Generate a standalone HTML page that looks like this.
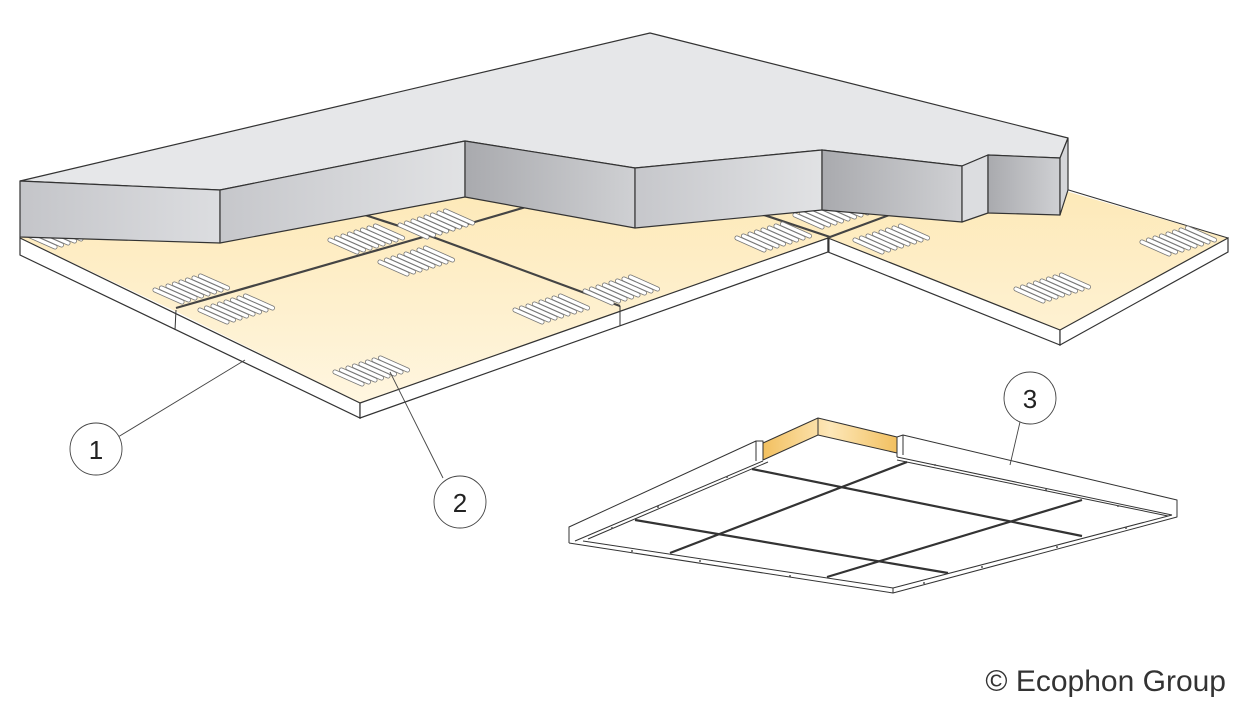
<!DOCTYPE html>
<html><head><meta charset="utf-8"><style>
html,body{margin:0;padding:0;background:#fff;}
svg{display:block}
</style></head><body>
<svg width="1256" height="726" viewBox="0 0 1256 726" xmlns="http://www.w3.org/2000/svg">
<defs>
<linearGradient id="ylw" x1="0" y1="0" x2="0" y2="1">
<stop offset="0" stop-color="#fde9b8"/><stop offset="1" stop-color="#fff6e0"/>
</linearGradient>
<linearGradient id="grayA" x1="0" y1="0" x2="1" y2="0">
<stop offset="0" stop-color="#c4c5c9"/><stop offset="1" stop-color="#dcdde0"/>
</linearGradient>
<linearGradient id="grayB" x1="0" y1="0" x2="1" y2="0">
<stop offset="0" stop-color="#c6c7cb"/><stop offset="1" stop-color="#e1e2e4"/>
</linearGradient>
<linearGradient id="grayD" x1="0" y1="0" x2="1" y2="0">
<stop offset="0" stop-color="#a9aaae"/><stop offset="1" stop-color="#cfd0d3"/>
</linearGradient>
<linearGradient id="ywall" x1="0" y1="0" x2="1" y2="0">
<stop offset="0" stop-color="#f2c060"/><stop offset="0.5" stop-color="#fde7b8"/><stop offset="1" stop-color="#f2c060"/>
</linearGradient>
<g id="rod">
<line x1="0" y1="0" x2="27" y2="12" stroke="#777" stroke-width="5" stroke-linecap="round"/>
<line x1="0" y1="0" x2="27" y2="12" stroke="#fff" stroke-width="3.4" stroke-linecap="round"/>
</g>
<g id="pad">
<use href="#rod" x="0" y="0"/><use href="#rod" x="6.5" y="-2"/><use href="#rod" x="13" y="-4"/><use href="#rod" x="19.5" y="-6"/>
<use href="#rod" x="26" y="-8"/><use href="#rod" x="32.5" y="-10"/><use href="#rod" x="39" y="-12"/><use href="#rod" x="45.5" y="-14"/>
</g>
</defs>

<polygon points="20,238 177,312 360,403 828,238 1060,330 1228,238 1062,190 1000,200 465,190 20,230" fill="url(#ylw)"/>
<polygon points="20,238 360,403 360,418 20,255" fill="#fff" stroke="#333" stroke-width="1.2"/>
<polygon points="360,403 828,238 828,252 360,418" fill="#fff" stroke="#333" stroke-width="1.2"/>
<polygon points="828,238 1060,330 1060,345 828,252" fill="#fff" stroke="#333" stroke-width="1.2"/>
<polygon points="1060,330 1228,238 1228,252 1060,345" fill="#fff" stroke="#333" stroke-width="1.2"/>
<line x1="1228" y1="238" x2="1062" y2="188" stroke="#333" stroke-width="1"/>
<g stroke="#444" stroke-width="2.2" fill="none">
<polyline points="176,308 430,235 526,207"/>
<polyline points="365,215 430,236 620,306"/>
<polyline points="755,212 830,237 892,214"/>
</g>
<line x1="176" y1="310" x2="175" y2="330" stroke="#333" stroke-width="1"/>
<line x1="620" y1="306" x2="620" y2="326" stroke="#333" stroke-width="1"/>
<line x1="829" y1="238" x2="829" y2="252" stroke="#333" stroke-width="1"/>

<use href="#pad" x="28" y="235"/>
<use href="#pad" x="155" y="290"/>
<use href="#pad" x="200" y="310"/>
<use href="#pad" x="330" y="240"/>
<use href="#pad" x="400" y="225"/>
<use href="#pad" x="380" y="262"/>
<use href="#pad" x="335" y="372"/>
<use href="#pad" x="515" y="310"/>
<use href="#pad" x="585" y="291"/>
<use href="#pad" x="737" y="238"/>
<use href="#pad" x="795" y="215"/>
<use href="#pad" x="855" y="240"/>
<use href="#pad" x="1142" y="242"/>
<use href="#pad" x="1016" y="289"/>

<g stroke="#333" stroke-width="1.2" stroke-linejoin="round">
<polygon points="20,181 650,33 1068,138 1060,158 988,155 962,166 822,150 635,168 465,141 220,190" fill="#e6e7e9"/>
<polygon points="20,181 220,190 220,243 20,237" fill="url(#grayA)"/>
<polygon points="220,190 465,141 465,197 220,243" fill="url(#grayB)"/>
<polygon points="465,141 635,168 635,228 465,197" fill="url(#grayD)"/>
<polygon points="635,168 822,150 822,210 635,228" fill="url(#grayB)"/>
<polygon points="822,150 962,166 962,222 822,210" fill="url(#grayD)"/>
<polygon points="962,166 988,155 988,213 962,222" fill="#dcdde0"/>
<polygon points="988,155 1060,158 1060,215 988,213" fill="url(#grayD)"/>
<polygon points="1060,158 1068,138 1068,190 1060,215" fill="#d5d6d9"/>
</g>

<!-- frame 3 -->
<g stroke="#333" stroke-width="1" fill="none" stroke-linejoin="round">
<polygon points="763,443 818,418 897,437 897,453 818,435 763,460" fill="url(#ywall)"/>
<line x1="818" y1="418" x2="818" y2="435"/>
<polyline points="569,543 569,527 756,441 763,441 763,460"/>
<polyline points="897,457 897,437 903,435 1177,500 1177,517 893,593 569,543"/>
<line x1="756" y1="441" x2="756" y2="461"/>
<line x1="903" y1="435" x2="903" y2="455"/>
<line x1="575" y1="541" x2="763" y2="461"/>
<line x1="588" y1="539" x2="768" y2="462"/>
<line x1="897" y1="457" x2="1172" y2="515"/>
<line x1="897" y1="460" x2="1168" y2="516"/>
<line x1="583" y1="541" x2="893" y2="588"/>
<line x1="893" y1="588" x2="1172" y2="515"/>
<line x1="893" y1="588" x2="893" y2="593"/>
</g>
<g stroke="#333" stroke-width="2.2">
<line x1="752" y1="469" x2="1082" y2="536"/>
<line x1="635" y1="520" x2="948" y2="573"/>
<line x1="907" y1="462" x2="670" y2="553"/>
<line x1="1082" y1="500" x2="827" y2="577"/>
</g>
<g fill="#555">
<circle cx="612" cy="528" r="1"/><circle cx="658" cy="507" r="1"/><circle cx="727" cy="477" r="1"/>
<circle cx="632" cy="551" r="1"/><circle cx="700" cy="561" r="1"/><circle cx="790" cy="576" r="1"/>
<circle cx="935" cy="465" r="1"/><circle cx="1046" cy="490" r="1"/><circle cx="1118" cy="506" r="1"/>
<circle cx="924" cy="583" r="1"/><circle cx="982" cy="567" r="1"/><circle cx="1057" cy="547" r="1"/><circle cx="1126" cy="528" r="1"/>
</g>

<g stroke="#444" stroke-width="0.9" fill="#fff">
<line x1="118" y1="437" x2="245" y2="360"/>
<line x1="443" y1="478" x2="390" y2="372"/>
<line x1="1020" y1="422" x2="1010" y2="465"/>
<ellipse cx="96" cy="449" rx="26" ry="26"/>
<ellipse cx="460" cy="502" rx="26" ry="26"/>
<ellipse cx="1030" cy="398" rx="26" ry="26"/>
</g>
<g font-family="Liberation Sans, sans-serif" font-size="26" fill="#222" text-anchor="middle">
<text x="96" y="459">1</text>
<text x="460" y="512">2</text>
<text x="1030" y="408">3</text>
</g>
<text x="1226" y="691" text-anchor="end" font-family="Liberation Sans, sans-serif" font-size="30" fill="#333">© Ecophon Group</text>
</svg>
</body></html>
